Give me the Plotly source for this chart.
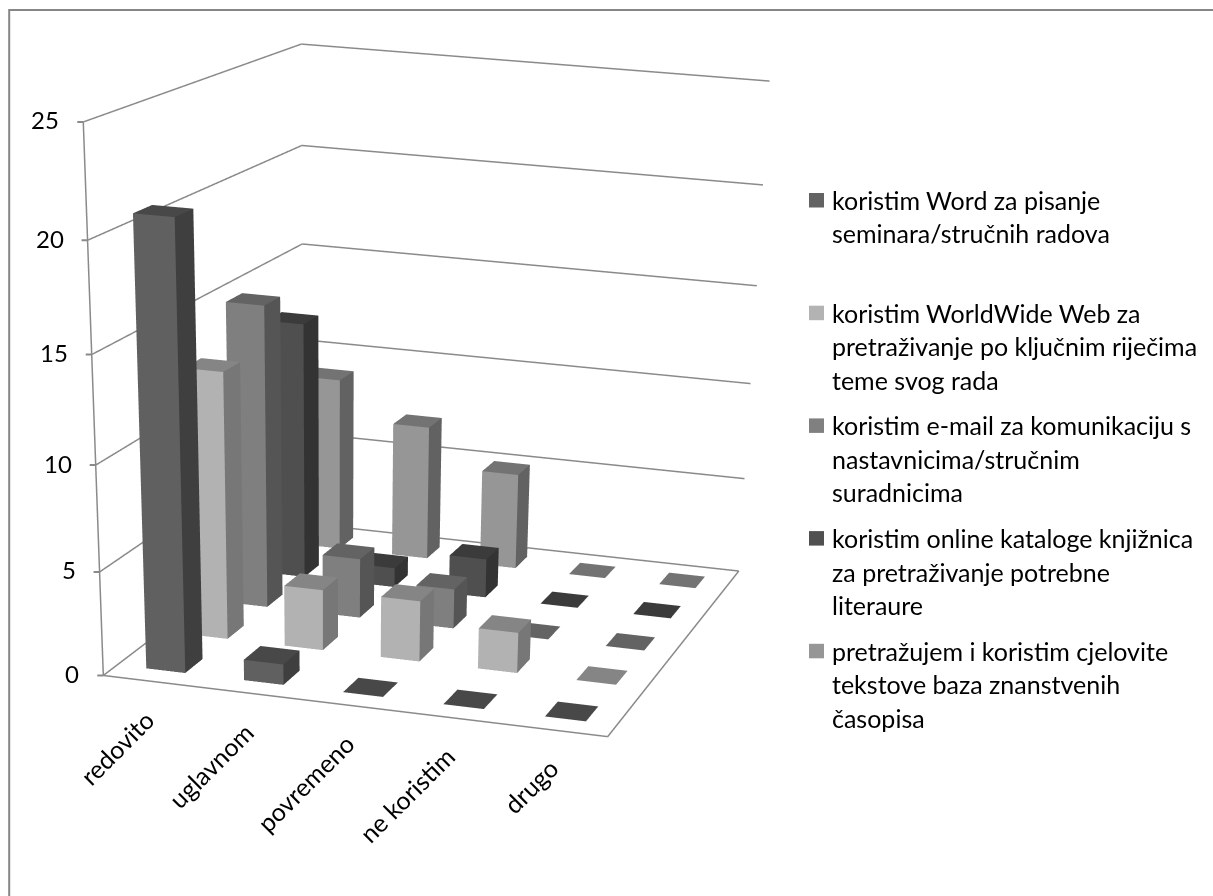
import plotly.graph_objects as go

categories = ["redovito", "uglavnom", "povremeno", "ne koristim", "drugo"]
word = [21, 1, 0, 0, 0]
www = [13, 3, 3, 2, 0]
email = [15, 3, 2, 0, 0]
katalog = [13, 1, 2, 0, 0]
baze = [9, 7, 5, 0, 0]
z_ticks = [0, 5, 10, 15, 20, 25]
legend_lines = [["koristim Word za pisanje", "seminara/stručnih radova"],
                ["koristim WorldWide Web za", "pretraživanje po ključnim riječima", "teme svog rada"],
                ["koristim e-mail za komunikaciju s", "nastavnicima/stručnim", "suradnicima"],
                ["koristim online kataloge knjižnica", "za pretraživanje potrebne", "literaure"],
                ["pretražujem i koristim cjelovite", "tekstove baza znanstvenih", "časopisa"]]

# front, side and top shades of each series
colors = [("#606060", "#3f3f3f", "#484848"),
          ("#b2b2b2", "#777777", "#858585"),
          ("#7f7f7f", "#555555", "#636363"),
          ("#4f4f4f", "#333333", "#3b3b3b"),
          ("#969696", "#626262", "#737373")]
marker_colors = ["#636363", "#b3b3b3", "#808080", "#505050", "#969696"]
series = [word, www, email, katalog, baze]

# The page is clipped to the window; a tall scene gives the long lens of the original
W, H = 1213, 2600
GAP = 0.3
gray = "#8a8a8a"
FONT = "Lato"

fig = go.Figure()
for j, (vals, col) in enumerate(zip(series, colors)):
    X, Y, Z, I, J, K, FC = [], [], [], [], [], [], []
    for i, v in enumerate(vals):
        x0, x1 = i + GAP, i + 1 - GAP
        y0, y1 = j + GAP, j + 1 - GAP
        n = len(X)
        X += [x0, x1, x1, x0, x0, x1, x1, x0]
        Y += [y0, y0, y1, y1, y0, y0, y1, y1]
        Z += [0, 0, 0, 0, v, v, v, v]
        for tri, cc in [((0, 1, 5), col[0]), ((0, 5, 4), col[0]),
                        ((1, 2, 6), col[1]), ((1, 6, 5), col[1]),
                        ((4, 5, 6), col[2]), ((4, 6, 7), col[2])]:
            I.append(n + tri[0])
            J.append(n + tri[1])
            K.append(n + tri[2])
            FC.append(cc)
    fig.add_trace(go.Mesh3d(x=X, y=Y, z=Z, i=I, j=J, k=K, facecolor=FC, flatshading=True,
                            name=legend_lines[j][0], hoverinfo="skip",
                            lighting=dict(ambient=1, diffuse=0, specular=0, roughness=1, fresnel=0)))

nx, ny, top = len(categories), len(series), z_ticks[-1]
gx, gy, gz = [0, 0, nx, nx], [0, 0, 0, ny], [top, 0, 0, 0]
for v in z_ticks:
    gx += [None, 0, 0, nx]
    gy += [None, 0, ny, ny]
    gz += [None, v, v, v]
fig.add_trace(go.Scatter3d(x=gx, y=gy, z=gz, mode="lines", line=dict(color=gray, width=3),
                           connectgaps=False, hoverinfo="skip", showlegend=False))

ax_off = dict(showgrid=False, showticklabels=False, ticks="", showline=False, zeroline=False,
              showbackground=False, title="", showspikes=False, autorange=False)
px = lambda v: v / W
py = lambda v: 1 - v / H

ann = []
shapes = [dict(type="path", xref="paper", yref="paper",
               path=f"M {px(9.2)} {py(896)} L {px(9.2)} {py(10)} L {px(1213)} {py(10)}",
               line=dict(color="#868686", width=2))]
for k, lines in enumerate(legend_lines):
    y0 = 200 + 112.7 * k
    shapes.append(dict(type="rect", xref="paper", yref="paper", x0=px(809), x1=px(824),
                       y0=py(y0 - 7), y1=py(y0 + 7.5), fillcolor=marker_colors[k], line=dict(width=0)))
    for m, l in enumerate(lines):
        ann.append(dict(text=l, x=px(830), y=py(y0 + 33.4 * m), xref="paper", yref="paper", showarrow=False,
                        xanchor="left", yanchor="middle", font=dict(family=FONT, size=25, color="#000")))

scene_ann = []
for v in z_ticks:
    scene_ann.append(dict(x=0, y=0, z=v, text=str(v), showarrow=False, xanchor="right", xshift=-22, yshift=2,
                          font=dict(family=FONT, size=24, color="#000")))
    scene_ann.append(dict(x=0, y=0, z=v, text=" ", showarrow=True, arrowhead=0, arrowwidth=2,
                          arrowcolor=gray, ax=-9, ay=0))
for i in range(nx + 1):
    scene_ann.append(dict(x=i, y=0, z=0, text=" ", showarrow=True, arrowhead=0, arrowwidth=2,
                          arrowcolor=gray, ax=0, ay=8))
for i, c in enumerate(categories):
    scene_ann.append(dict(x=i + .5, y=0, z=0, text=c, showarrow=False, textangle=-45, xanchor="right",
                          yanchor="top", xshift=11, yshift=-20, font=dict(family=FONT, size=25, color="#000")))

fig.update_layout(
    width=W, height=H, margin=dict(l=0, r=0, t=0, b=0), paper_bgcolor="white", showlegend=False,
    annotations=ann, shapes=shapes,
    scene=dict(domain=dict(x=[0, 1], y=[0, 1]), annotations=scene_ann,
               xaxis=dict(ax_off, range=[0, nx]), yaxis=dict(ax_off, range=[0, ny]),
               zaxis=dict(ax_off, range=[0, top], tickvals=z_ticks),
               aspectmode="manual", aspectratio=dict(x=1, y=1.1872, z=1.0073),
               camera=dict(eye=dict(x=1.7803, y=-6.0703, z=1.3874),
                           center=dict(x=0.6704, y=-1.1331, z=-1.3889),
                           up=dict(x=-0.0260, y=-0.0694, z=1))))
fig.write_html("out.html", config=dict(displayModeBar=False),
               post_script="document.documentElement.style.overflow='hidden';"
                           "document.body.style.overflow='hidden';document.body.style.margin='0';")
